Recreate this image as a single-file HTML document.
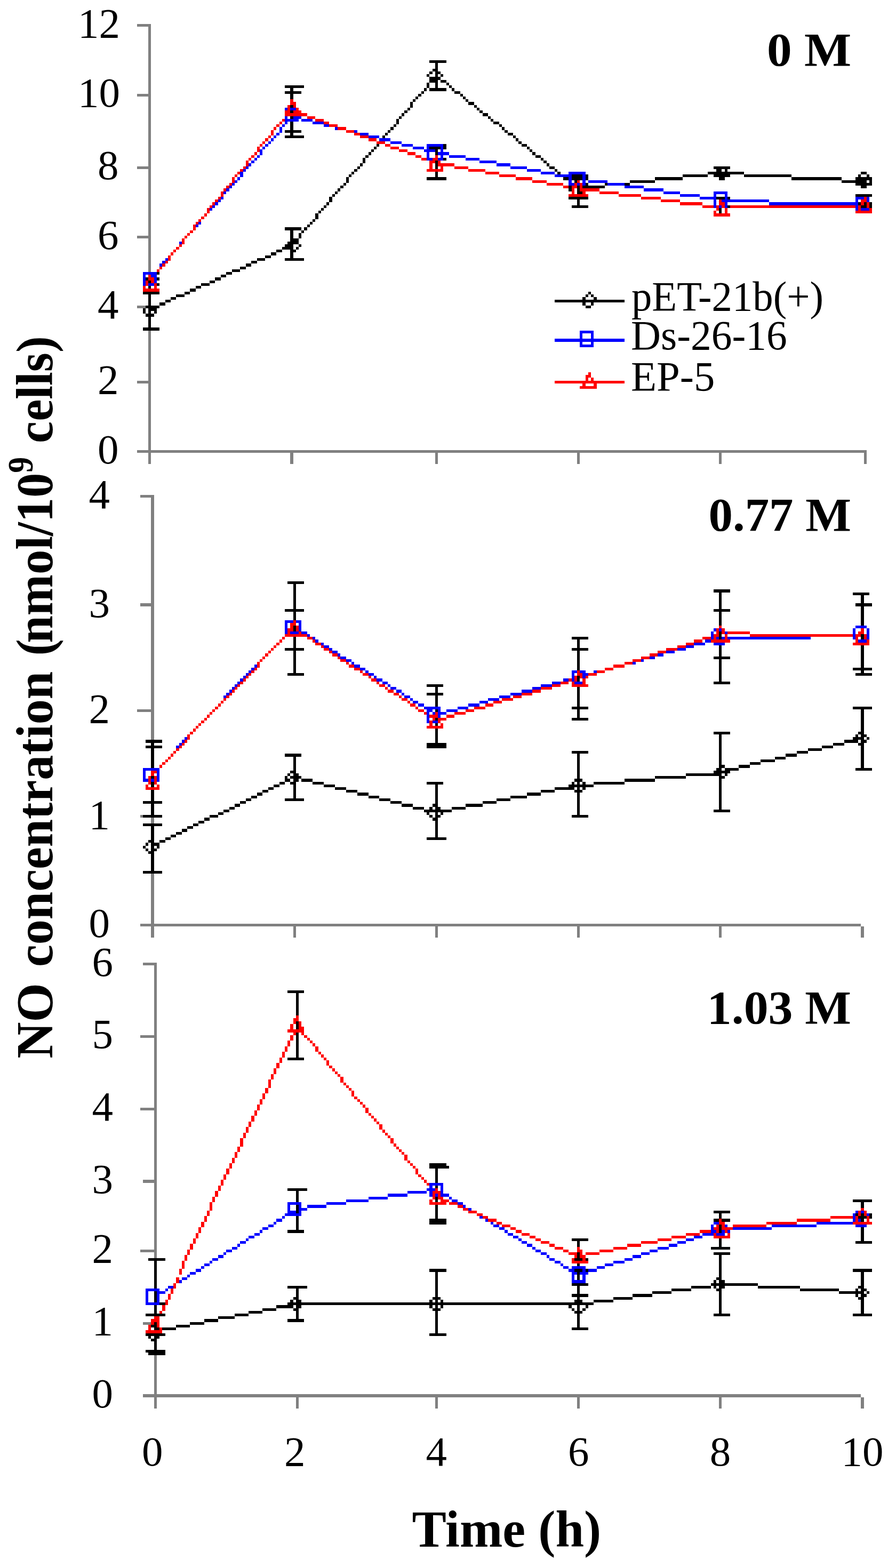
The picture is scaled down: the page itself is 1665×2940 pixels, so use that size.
<!DOCTYPE html>
<html lang="en">
<head>
<meta charset="utf-8">
<title>NO concentration vs Time</title>
<style>
html,body{margin:0;padding:0;background:#ffffff;}
body{width:1665px;height:2940px;overflow:hidden;}
svg{display:block;}
svg text{font-family:"Liberation Serif","DejaVu Serif",serif;fill:#000000;}
</style>
</head>
<body>
<svg width="1665" height="2940" viewBox="0 0 1665 2940">
<rect x="0" y="0" width="1665" height="2940" fill="#ffffff"/>
<g shape-rendering="crispEdges">
<path fill="#808080" d="M257 45h26v5h-26zM278 50h5v6h-5zM278 56h5v5h-5zM278 61h5v5h-5zM278 66h5v5h-5zM278 71h5v6h-5zM278 77h5v5h-5zM278 82h5v5h-5zM278 87h5v5h-5zM278 92h5v5h-5zM278 97h5v6h-5zM278 103h5v5h-5zM278 108h5v5h-5zM278 113h5v5h-5zM278 118h5v6h-5zM278 124h5v5h-5zM278 129h5v5h-5zM278 134h5v5h-5zM278 139h5v5h-5zM278 144h5v6h-5zM278 150h5v5h-5zM278 155h5v5h-5zM278 160h5v5h-5zM278 165h5v6h-5zM278 171h5v5h-5zM257 176h26v5h-26zM278 181h5v5h-5zM278 186h5v5h-5zM278 191h5v6h-5zM278 197h5v5h-5zM278 202h5v5h-5zM278 207h5v5h-5zM278 212h5v6h-5zM278 218h5v5h-5zM278 223h5v5h-5zM278 228h5v5h-5zM278 233h5v5h-5zM278 238h5v6h-5zM278 244h5v5h-5zM278 249h5v5h-5zM278 254h5v5h-5zM278 259h5v6h-5zM278 265h5v5h-5zM278 270h5v5h-5zM278 275h5v5h-5zM278 280h5v5h-5zM278 285h5v6h-5zM278 291h5v5h-5zM278 296h5v5h-5zM278 301h5v5h-5zM278 306h5v6h-5zM257 312h26v5h-26zM278 317h5v5h-5zM278 322h5v5h-5zM278 327h5v5h-5zM278 332h5v6h-5zM278 338h5v5h-5zM278 343h5v5h-5zM278 348h5v5h-5zM278 353h5v6h-5zM278 359h5v5h-5zM278 364h5v5h-5zM278 369h5v5h-5zM278 374h5v5h-5zM278 379h5v6h-5zM278 385h5v5h-5zM278 390h5v5h-5zM278 395h5v5h-5zM278 400h5v6h-5zM278 406h5v5h-5zM278 411h5v5h-5zM278 416h5v5h-5zM278 421h5v5h-5zM278 426h5v6h-5zM278 432h5v5h-5zM278 437h5v5h-5zM257 442h26v5h-26zM278 447h5v6h-5zM278 453h5v5h-5zM278 458h5v5h-5zM278 463h5v5h-5zM278 468h5v5h-5zM278 473h5v6h-5zM278 479h5v5h-5zM278 484h5v5h-5zM278 489h5v5h-5zM278 494h5v6h-5zM278 500h5v5h-5zM278 505h5v5h-5zM257 573h16v5h-16zM278 620h5v5h-5zM278 625h5v5h-5zM278 630h5v5h-5zM278 635h5v6h-5zM278 641h5v5h-5zM278 646h5v5h-5zM278 651h5v5h-5zM278 656h5v5h-5zM278 661h5v6h-5zM278 667h5v5h-5zM278 672h5v5h-5zM278 677h5v5h-5zM278 682h5v6h-5zM278 688h5v5h-5zM278 693h5v5h-5zM278 698h5v5h-5zM278 703h5v5h-5zM278 708h5v6h-5zM257 714h26v5h-26zM278 719h5v5h-5zM278 724h5v5h-5zM278 729h5v6h-5zM278 735h5v5h-5zM278 740h5v5h-5zM278 745h5v5h-5zM278 750h5v5h-5zM278 755h5v6h-5zM278 761h5v5h-5zM278 766h5v5h-5zM278 771h5v5h-5zM278 776h5v6h-5zM278 782h5v5h-5zM278 787h5v5h-5zM278 792h5v5h-5zM278 797h5v5h-5zM278 802h5v6h-5zM278 808h5v5h-5zM278 813h5v5h-5zM278 818h5v5h-5zM278 823h5v6h-5zM278 829h5v5h-5zM278 834h5v5h-5zM278 839h5v5h-5zM257 844h1368v5h-1368zM278 849h5v6h-5zM544 849h6v6h-6zM816 849h5v6h-5zM1082 849h5v6h-5zM1348 849h5v6h-5zM1620 849h5v6h-5zM278 855h5v5h-5zM544 855h6v5h-6zM816 855h5v5h-5zM1082 855h5v5h-5zM1348 855h5v5h-5zM1620 855h5v5h-5zM278 860h5v5h-5zM544 860h6v5h-6zM816 860h5v5h-5zM1082 860h5v5h-5zM1348 860h5v5h-5zM1620 860h5v5h-5zM278 865h5v5h-5zM544 865h6v5h-6zM816 865h5v5h-5zM1082 865h5v5h-5zM1348 865h5v5h-5zM1620 865h5v5h-5zM263 928h26v5h-26zM283 933h6v5h-6zM283 938h6v5h-6zM283 943h6v6h-6zM283 949h6v5h-6zM283 954h6v5h-6zM283 959h6v5h-6zM283 964h6v6h-6zM283 970h6v5h-6zM283 975h6v5h-6zM283 980h6v5h-6zM283 985h6v5h-6zM283 990h6v6h-6zM283 996h6v5h-6zM283 1001h6v5h-6zM283 1006h6v5h-6zM283 1011h6v6h-6zM283 1017h6v5h-6zM283 1022h6v5h-6zM283 1027h6v5h-6zM283 1032h6v5h-6zM283 1037h6v6h-6zM283 1043h6v5h-6zM283 1048h6v5h-6zM283 1053h6v5h-6zM283 1058h6v6h-6zM283 1064h6v5h-6zM283 1069h6v5h-6zM283 1074h6v5h-6zM283 1079h6v5h-6zM283 1084h6v6h-6zM283 1090h6v5h-6zM283 1095h6v5h-6zM283 1100h6v5h-6zM283 1105h6v6h-6zM283 1111h6v5h-6zM283 1116h6v5h-6zM283 1121h6v5h-6zM283 1126h6v5h-6zM263 1131h26v6h-26zM283 1137h6v5h-6zM283 1142h6v5h-6zM283 1147h6v5h-6zM283 1152h6v6h-6zM283 1158h6v5h-6zM283 1163h6v5h-6zM283 1168h6v5h-6zM283 1173h6v5h-6zM283 1178h6v6h-6zM283 1184h6v5h-6zM283 1189h6v5h-6zM283 1194h6v5h-6zM283 1199h6v6h-6zM283 1205h6v5h-6zM283 1210h6v5h-6zM283 1215h6v5h-6zM283 1220h6v5h-6zM283 1225h6v6h-6zM283 1231h6v5h-6zM283 1236h6v5h-6zM283 1241h6v5h-6zM283 1246h6v6h-6zM283 1252h6v5h-6zM283 1257h6v5h-6zM283 1262h6v5h-6zM283 1267h6v5h-6zM283 1272h6v6h-6zM283 1278h6v5h-6zM283 1283h6v5h-6zM283 1288h6v5h-6zM283 1293h6v6h-6zM283 1299h6v5h-6zM283 1304h6v5h-6zM283 1309h6v5h-6zM283 1314h6v5h-6zM283 1319h6v6h-6zM283 1325h6v5h-6zM257 1330h32v5h-32zM283 1335h6v5h-6zM283 1340h6v6h-6zM283 1346h6v5h-6zM283 1351h6v5h-6zM283 1356h6v5h-6zM283 1361h6v5h-6zM283 1366h6v6h-6zM283 1372h6v5h-6zM283 1377h6v5h-6zM283 1382h6v5h-6zM263 1528h5v5h-5zM283 1533h6v6h-6zM283 1539h6v5h-6zM283 1638h6v5h-6zM283 1643h6v5h-6zM283 1648h6v6h-6zM283 1654h6v5h-6zM283 1659h6v5h-6zM283 1664h6v5h-6zM283 1669h6v5h-6zM283 1674h6v6h-6zM283 1680h6v5h-6zM283 1685h6v5h-6zM283 1690h6v5h-6zM283 1695h6v6h-6zM283 1701h6v5h-6zM283 1706h6v5h-6zM283 1711h6v5h-6zM283 1716h6v5h-6zM283 1721h6v6h-6zM283 1727h6v5h-6zM263 1732h1351v5h-1351zM283 1737h6v5h-6zM550 1737h5v5h-5zM816 1737h5v5h-5zM1082 1737h5v5h-5zM1348 1737h5v5h-5zM1614 1737h6v5h-6zM283 1742h6v6h-6zM550 1742h5v6h-5zM816 1742h5v6h-5zM1082 1742h5v6h-5zM1348 1742h5v6h-5zM1614 1742h6v6h-6zM283 1748h6v5h-6zM550 1748h5v5h-5zM816 1748h5v5h-5zM1082 1748h5v5h-5zM1348 1748h5v5h-5zM1614 1748h6v5h-6zM283 1753h6v5h-6zM550 1753h5v5h-5zM816 1753h5v5h-5zM1082 1753h5v5h-5zM1348 1753h5v5h-5zM1614 1753h6v5h-6zM268 1805h26v5h-26zM289 1810h5v5h-5zM289 1815h5v6h-5zM289 1821h5v5h-5zM289 1826h5v5h-5zM289 1831h5v5h-5zM289 1836h5v6h-5zM289 1842h5v5h-5zM289 1847h5v5h-5zM289 1852h5v5h-5zM289 1857h5v5h-5zM289 1862h5v6h-5zM289 1868h5v5h-5zM289 1873h5v5h-5zM289 1878h5v5h-5zM289 1883h5v6h-5zM289 1889h5v5h-5zM289 1894h5v5h-5zM289 1899h5v5h-5zM289 1904h5v5h-5zM289 1909h5v6h-5zM289 1915h5v5h-5zM289 1920h5v5h-5zM289 1925h5v5h-5zM289 1930h5v6h-5zM289 1936h5v5h-5zM263 1941h31v5h-31zM289 1946h5v5h-5zM289 1951h5v5h-5zM289 1956h5v6h-5zM289 1962h5v5h-5zM289 1967h5v5h-5zM289 1972h5v5h-5zM289 1977h5v6h-5zM289 1983h5v5h-5zM289 1988h5v5h-5zM289 1993h5v5h-5zM289 1998h5v5h-5zM289 2003h5v6h-5zM289 2009h5v5h-5zM289 2014h5v5h-5zM289 2019h5v5h-5zM289 2024h5v6h-5zM289 2030h5v5h-5zM289 2035h5v5h-5zM289 2040h5v5h-5zM289 2045h5v5h-5zM289 2050h5v6h-5zM289 2056h5v5h-5zM289 2061h5v5h-5zM289 2066h5v5h-5zM289 2071h5v6h-5zM263 2077h31v5h-31zM289 2082h5v5h-5zM289 2087h5v5h-5zM289 2092h5v5h-5zM289 2097h5v6h-5zM289 2103h5v5h-5zM289 2108h5v5h-5zM289 2113h5v5h-5zM289 2118h5v6h-5zM289 2124h5v5h-5zM289 2129h5v5h-5zM289 2134h5v5h-5zM289 2139h5v5h-5zM289 2144h5v6h-5zM289 2150h5v5h-5zM289 2155h5v5h-5zM289 2160h5v5h-5zM289 2165h5v6h-5zM289 2171h5v5h-5zM289 2176h5v5h-5zM289 2181h5v5h-5zM289 2186h5v5h-5zM289 2191h5v6h-5zM289 2197h5v5h-5zM289 2202h5v5h-5zM289 2207h5v5h-5zM268 2212h26v6h-26zM289 2218h5v5h-5zM289 2223h5v5h-5zM289 2228h5v5h-5zM289 2233h5v5h-5zM289 2238h5v6h-5zM289 2244h5v5h-5zM289 2249h5v5h-5zM289 2254h5v5h-5zM289 2259h5v6h-5zM289 2265h5v5h-5zM289 2270h5v5h-5zM289 2275h5v5h-5zM289 2280h5v5h-5zM289 2285h5v6h-5zM289 2291h5v5h-5zM289 2296h5v5h-5zM289 2301h5v5h-5zM289 2306h5v6h-5zM289 2312h5v5h-5zM289 2317h5v5h-5zM289 2322h5v5h-5zM289 2327h5v5h-5zM289 2332h5v6h-5zM289 2338h5v5h-5zM263 2343h31v5h-31zM289 2348h5v5h-5zM289 2353h5v6h-5zM268 2479h15v5h-15zM289 2541h5v6h-5zM289 2547h5v5h-5zM289 2552h5v5h-5zM289 2557h5v5h-5zM289 2562h5v5h-5zM289 2567h5v6h-5zM289 2573h5v5h-5zM289 2578h5v5h-5zM289 2583h5v5h-5zM289 2588h5v6h-5zM289 2594h5v5h-5zM289 2599h5v5h-5zM289 2604h5v5h-5zM289 2609h5v5h-5zM268 2614h1346v6h-1346zM289 2620h5v5h-5zM555 2620h5v5h-5zM816 2620h5v5h-5zM1082 2620h5v5h-5zM1348 2620h5v5h-5zM1614 2620h6v5h-6zM289 2625h5v5h-5zM555 2625h5v5h-5zM816 2625h5v5h-5zM1082 2625h5v5h-5zM1348 2625h5v5h-5zM1614 2625h6v5h-6zM289 2630h5v5h-5zM555 2630h5v5h-5zM816 2630h5v5h-5zM1082 2630h5v5h-5zM1348 2630h5v5h-5zM1614 2630h6v5h-6zM289 2635h5v6h-5zM555 2635h5v6h-5zM816 2635h5v6h-5zM1082 2635h5v6h-5zM1348 2635h5v6h-5zM1614 2635h6v6h-6z"/>
<path fill="#000000" d="M805 113h32v5h-32zM816 118h5v6h-5zM816 124h5v5h-5zM811 129h10v5h-10zM805 134h6v5h-6zM816 134h10v5h-10zM800 139h5v5h-5zM816 139h5v5h-5zM826 139h5v5h-5zM805 144h21v6h-21zM805 150h16v5h-16zM826 150h11v5h-11zM800 155h5v5h-5zM816 155h5v5h-5zM837 155h5v5h-5zM534 160h36v5h-36zM800 160h5v5h-5zM816 160h5v5h-5zM842 160h5v5h-5zM544 165h6v6h-6zM795 165h5v6h-5zM805 165h32v6h-32zM847 165h5v6h-5zM534 171h31v5h-31zM790 171h5v5h-5zM852 171h11v5h-11zM544 176h6v5h-6zM784 176h6v5h-6zM863 176h5v5h-5zM544 181h6v5h-6zM779 181h5v5h-5zM868 181h5v5h-5zM774 186h5v5h-5zM873 186h5v5h-5zM769 191h5v6h-5zM878 191h11v6h-11zM544 197h6v5h-6zM769 197h5v5h-5zM889 197h5v5h-5zM764 202h5v5h-5zM894 202h5v5h-5zM544 207h6v5h-6zM758 207h6v5h-6zM899 207h6v5h-6zM753 212h5v6h-5zM905 212h10v6h-10zM544 218h6v5h-6zM748 218h5v5h-5zM915 218h5v5h-5zM743 223h5v5h-5zM920 223h5v5h-5zM544 228h6v5h-6zM743 228h5v5h-5zM925 228h11v5h-11zM544 233h6v5h-6zM738 233h5v5h-5zM936 233h5v5h-5zM544 238h6v6h-6zM732 238h6v6h-6zM941 238h5v6h-5zM534 244h31v5h-31zM727 244h5v5h-5zM946 244h6v5h-6zM544 249h6v5h-6zM722 249h5v5h-5zM952 249h10v5h-10zM534 254h36v5h-36zM717 254h5v5h-5zM962 254h5v5h-5zM967 259h5v6h-5zM972 265h6v5h-6zM706 270h5v5h-5zM831 270h6v5h-6zM978 270h10v5h-10zM701 275h5v5h-5zM805 275h21v5h-21zM831 275h6v5h-6zM988 275h5v5h-5zM696 280h5v5h-5zM816 280h5v5h-5zM993 280h5v5h-5zM691 285h5v6h-5zM816 285h5v6h-5zM998 285h6v6h-6zM685 291h6v5h-6zM1004 291h10v5h-10zM680 296h5v5h-5zM831 296h6v5h-6zM1014 296h5v5h-5zM680 301h5v5h-5zM816 301h5v5h-5zM1019 301h6v5h-6zM675 306h5v6h-5zM816 306h5v6h-5zM1025 306h5v6h-5zM670 312h5v5h-5zM816 312h5v5h-5zM1030 312h10v5h-10zM1338 312h31v5h-31zM664 317h6v5h-6zM1040 317h5v5h-5zM1343 317h10v5h-10zM1359 317h5v5h-5zM659 322h5v5h-5zM816 322h5v5h-5zM1045 322h6v5h-6zM1327 322h68v5h-68zM1614 322h11v5h-11zM654 327h5v5h-5zM816 327h5v5h-5zM1072 327h20v5h-20zM1098 327h5v5h-5zM1280 327h47v5h-47zM1338 327h31v5h-31zM1395 327h89v5h-89zM1609 327h5v5h-5zM1625 327h5v5h-5zM649 332h5v6h-5zM800 332h37v6h-37zM1056 332h10v6h-10zM1072 332h20v6h-20zM1098 332h5v6h-5zM1228 332h52v6h-52zM1348 332h11v6h-11zM1484 332h94v6h-94zM1604 332h31v6h-31zM649 338h5v5h-5zM1077 338h5v5h-5zM1181 338h47v5h-47zM1578 338h47v5h-47zM1630 338h5v5h-5zM644 343h5v5h-5zM1098 343h5v5h-5zM1134 343h5v5h-5zM1171 343h10v5h-10zM1604 343h31v5h-31zM638 348h6v5h-6zM1066 348h6v5h-6zM1082 348h5v5h-5zM1092 348h42v5h-42zM1614 348h11v5h-11zM633 353h5v6h-5zM1066 353h6v6h-6zM1082 353h5v6h-5zM628 359h5v5h-5zM1082 359h10v5h-10zM623 364h5v5h-5zM1604 364h31v5h-31zM617 369h6v5h-6zM1066 369h37v5h-37zM1343 369h16v5h-16zM1364 369h5v5h-5zM617 374h6v5h-6zM1082 374h5v5h-5zM612 379h5v6h-5zM1082 379h5v6h-5zM1609 379h5v6h-5zM1620 379h5v6h-5zM1630 379h5v6h-5zM607 385h5v5h-5zM1072 385h31v5h-31zM1364 385h5v5h-5zM1614 385h11v5h-11zM1630 385h5v5h-5zM602 390h5v5h-5zM1348 390h5v5h-5zM597 395h5v5h-5zM1348 395h5v5h-5zM591 400h6v6h-6zM591 406h6v5h-6zM586 411h5v5h-5zM581 416h5v5h-5zM576 421h5v5h-5zM534 426h31v6h-31zM570 426h6v6h-6zM544 432h6v5h-6zM565 432h5v5h-5zM544 437h6v5h-6zM560 437h5v5h-5zM544 442h6v5h-6zM560 442h5v5h-5zM544 447h16v6h-16zM539 453h21v5h-21zM534 458h16v5h-16zM560 458h5v5h-5zM529 463h21v5h-21zM555 463h5v5h-5zM518 468h11v5h-11zM544 468h11v5h-11zM508 473h10v6h-10zM544 473h6v6h-6zM497 479h11v5h-11zM544 479h6v5h-6zM482 484h15v5h-15zM534 484h36v5h-36zM471 489h11v5h-11zM461 494h10v6h-10zM450 500h11v5h-11zM435 505h15v5h-15zM294 510h5v5h-5zM424 510h11v5h-11zM414 515h10v5h-10zM273 520h5v6h-5zM294 520h5v6h-5zM403 520h11v6h-11zM278 526h5v5h-5zM393 526h10v5h-10zM294 531h5v5h-5zM377 531h16v5h-16zM278 536h5v5h-5zM367 536h10v5h-10zM356 541h11v6h-11zM268 547h31v5h-31zM346 547h10v5h-10zM1103 547h5v5h-5zM278 552h5v5h-5zM330 552h16v5h-16zM1098 552h5v5h-5zM1108 552h5v5h-5zM278 557h5v5h-5zM320 557h10v5h-10zM1092 557h6v5h-6zM1113 557h6v5h-6zM278 562h5v5h-5zM310 562h10v5h-10zM1040 562h131v5h-131zM278 567h5v6h-5zM299 567h11v6h-11zM1092 567h6v6h-6zM1108 567h5v6h-5zM273 573h26v5h-26zM1098 573h10v5h-10zM268 578h5v5h-5zM278 578h16v5h-16zM268 583h5v5h-5zM278 583h5v5h-5zM289 583h5v5h-5zM273 588h16v6h-16zM278 594h5v5h-5zM278 599h5v5h-5zM278 604h5v5h-5zM278 609h5v5h-5zM268 614h31v6h-31zM539 1090h31v5h-31zM550 1095h5v5h-5zM550 1100h5v5h-5zM550 1105h5v6h-5zM1338 1105h31v6h-31zM550 1111h5v5h-5zM1348 1111h5v5h-5zM1599 1111h31v5h-31zM550 1116h5v5h-5zM1348 1116h5v5h-5zM1614 1116h6v5h-6zM550 1121h5v5h-5zM1348 1121h5v5h-5zM1614 1121h6v5h-6zM550 1126h5v5h-5zM1348 1126h5v5h-5zM1614 1126h6v5h-6zM550 1131h5v6h-5zM1348 1131h5v6h-5zM1604 1131h31v6h-31zM550 1137h5v5h-5zM1348 1137h5v5h-5zM1614 1137h6v5h-6zM534 1142h36v5h-36zM1338 1142h31v5h-31zM1614 1142h6v5h-6zM550 1147h5v5h-5zM1348 1147h5v5h-5zM1614 1147h6v5h-6zM550 1152h5v6h-5zM1348 1152h5v6h-5zM1614 1152h6v6h-6zM550 1158h5v5h-5zM1348 1158h5v5h-5zM1614 1158h6v5h-6zM1348 1163h5v5h-5zM1614 1163h6v5h-6zM1348 1168h5v5h-5zM1614 1168h6v5h-6zM550 1173h5v5h-5zM550 1178h5v6h-5zM1348 1184h5v5h-5zM1348 1189h5v5h-5zM1614 1189h6v5h-6zM550 1194h5v5h-5zM1072 1194h31v5h-31zM1348 1194h5v5h-5zM1614 1194h6v5h-6zM550 1199h5v6h-5zM1082 1199h5v6h-5zM550 1205h5v5h-5zM1082 1205h5v5h-5zM550 1210h5v5h-5zM1082 1210h5v5h-5zM1348 1210h5v5h-5zM1614 1210h6v5h-6zM534 1215h36v5h-36zM1072 1215h31v5h-31zM1348 1215h5v5h-5zM1614 1215h6v5h-6zM550 1220h5v5h-5zM1082 1220h5v5h-5zM1348 1220h5v5h-5zM1614 1220h6v5h-6zM550 1225h5v6h-5zM1082 1225h5v6h-5zM1348 1225h5v6h-5zM1614 1225h6v6h-6zM550 1231h5v5h-5zM1082 1231h5v5h-5zM1338 1231h31v5h-31zM1614 1231h6v5h-6zM550 1236h5v5h-5zM1082 1236h5v5h-5zM1348 1236h5v5h-5zM1614 1236h6v5h-6zM550 1241h5v5h-5zM1082 1241h5v5h-5zM1348 1241h5v5h-5zM1614 1241h6v5h-6zM550 1246h5v6h-5zM1082 1246h5v6h-5zM1348 1246h5v6h-5zM1614 1246h6v6h-6zM550 1252h5v5h-5zM1082 1252h5v5h-5zM1348 1252h5v5h-5zM1599 1252h36v5h-36zM550 1257h5v5h-5zM1348 1257h5v5h-5zM1614 1257h6v5h-6zM539 1262h31v5h-31zM1348 1262h5v5h-5zM1604 1262h31v5h-31zM1082 1267h5v5h-5zM1348 1267h5v5h-5zM1082 1272h5v6h-5zM1348 1272h5v6h-5zM1338 1278h31v5h-31zM800 1283h31v5h-31zM816 1288h5v5h-5zM1082 1288h5v5h-5zM816 1293h5v6h-5zM1082 1293h5v6h-5zM800 1299h31v5h-31zM1082 1299h5v5h-5zM816 1304h5v5h-5zM1082 1304h5v5h-5zM816 1309h5v5h-5zM1082 1309h5v5h-5zM816 1314h5v5h-5zM1082 1314h5v5h-5zM816 1319h5v6h-5zM1082 1319h5v6h-5zM1072 1325h31v5h-31zM1599 1325h36v5h-36zM816 1330h5v5h-5zM1082 1330h5v5h-5zM1614 1330h6v5h-6zM1082 1335h5v5h-5zM1614 1335h6v5h-6zM1082 1340h5v6h-5zM1614 1340h6v6h-6zM816 1346h5v5h-5zM1072 1346h31v5h-31zM1614 1346h6v5h-6zM1614 1351h6v5h-6zM816 1356h5v5h-5zM1614 1356h6v5h-6zM1614 1361h6v5h-6zM816 1366h5v6h-5zM1614 1366h6v6h-6zM816 1372h5v5h-5zM1338 1372h31v5h-31zM1609 1372h11v5h-11zM816 1377h5v5h-5zM1348 1377h5v5h-5zM1604 1377h5v5h-5zM1614 1377h11v5h-11zM816 1382h5v5h-5zM1348 1382h5v5h-5zM1599 1382h21v5h-21zM1625 1382h5v5h-5zM273 1387h31v6h-31zM816 1387h5v6h-5zM1348 1387h5v6h-5zM1583 1387h26v6h-26zM1614 1387h11v6h-11zM283 1393h6v5h-6zM800 1393h37v5h-37zM1348 1393h5v5h-5zM1562 1393h21v5h-21zM1609 1393h11v5h-11zM273 1398h31v5h-31zM800 1398h37v5h-37zM1348 1398h5v5h-5zM1541 1398h21v5h-21zM1614 1398h6v5h-6zM283 1403h6v5h-6zM1348 1403h5v5h-5zM1515 1403h26v5h-26zM1614 1403h6v5h-6zM283 1408h6v5h-6zM1072 1408h31v5h-31zM1348 1408h5v5h-5zM1494 1408h21v5h-21zM1614 1408h6v5h-6zM283 1413h6v6h-6zM534 1413h31v6h-31zM1082 1413h5v6h-5zM1348 1413h5v6h-5zM1473 1413h21v6h-21zM1614 1413h6v6h-6zM283 1419h6v5h-6zM550 1419h5v5h-5zM1082 1419h5v5h-5zM1348 1419h5v5h-5zM1453 1419h20v5h-20zM1614 1419h6v5h-6zM283 1424h6v5h-6zM550 1424h5v5h-5zM1082 1424h5v5h-5zM1348 1424h5v5h-5zM1426 1424h27v5h-27zM1614 1424h6v5h-6zM283 1429h6v5h-6zM550 1429h5v5h-5zM1082 1429h5v5h-5zM1348 1429h5v5h-5zM1406 1429h20v5h-20zM1614 1429h6v5h-6zM283 1434h6v6h-6zM550 1434h5v6h-5zM1082 1434h5v6h-5zM1348 1434h11v6h-11zM1385 1434h21v6h-21zM1614 1434h6v6h-6zM550 1440h5v5h-5zM1082 1440h5v5h-5zM1343 1440h10v5h-10zM1359 1440h26v5h-26zM1604 1440h31v5h-31zM544 1445h11v5h-11zM1082 1445h5v5h-5zM1338 1445h31v5h-31zM539 1450h5v5h-5zM550 1450h10v5h-10zM1082 1450h5v5h-5zM1286 1450h67v5h-67zM1359 1450h5v5h-5zM283 1455h6v5h-6zM534 1455h5v5h-5zM544 1455h21v5h-21zM1082 1455h5v5h-5zM1228 1455h58v5h-58zM1348 1455h11v5h-11zM534 1460h10v6h-10zM550 1460h10v6h-10zM565 1460h21v6h-21zM1077 1460h15v6h-15zM1171 1460h57v6h-57zM1348 1460h5v6h-5zM283 1466h6v5h-6zM524 1466h10v5h-10zM544 1466h11v5h-11zM586 1466h21v5h-21zM800 1466h31v5h-31zM1072 1466h5v5h-5zM1082 1466h5v5h-5zM1092 1466h6v5h-6zM1113 1466h58v5h-58zM1348 1466h5v5h-5zM283 1471h6v5h-6zM513 1471h11v5h-11zM550 1471h5v5h-5zM607 1471h21v5h-21zM816 1471h5v5h-5zM1066 1471h47v5h-47zM1348 1471h5v5h-5zM503 1476h10v5h-10zM550 1476h5v5h-5zM628 1476h21v5h-21zM816 1476h5v5h-5zM1040 1476h37v5h-37zM1082 1476h5v5h-5zM1092 1476h6v5h-6zM1348 1476h5v5h-5zM283 1481h6v5h-6zM492 1481h11v5h-11zM550 1481h5v5h-5zM649 1481h21v5h-21zM816 1481h5v5h-5zM1014 1481h26v5h-26zM1077 1481h15v5h-15zM1348 1481h5v5h-5zM283 1486h6v6h-6zM482 1486h10v6h-10zM550 1486h5v6h-5zM670 1486h21v6h-21zM816 1486h5v6h-5zM988 1486h26v6h-26zM1082 1486h5v6h-5zM1348 1486h5v6h-5zM283 1492h6v5h-6zM471 1492h11v5h-11zM550 1492h5v5h-5zM691 1492h20v5h-20zM816 1492h5v5h-5zM957 1492h31v5h-31zM1082 1492h5v5h-5zM1348 1492h5v5h-5zM283 1497h6v5h-6zM461 1497h10v5h-10zM534 1497h36v5h-36zM711 1497h21v5h-21zM816 1497h5v5h-5zM931 1497h26v5h-26zM1082 1497h5v5h-5zM1348 1497h5v5h-5zM268 1502h36v5h-36zM450 1502h11v5h-11zM732 1502h21v5h-21zM816 1502h5v5h-5zM905 1502h26v5h-26zM1082 1502h5v5h-5zM1348 1502h5v5h-5zM283 1507h6v6h-6zM440 1507h10v6h-10zM753 1507h21v6h-21zM811 1507h10v6h-10zM873 1507h32v6h-32zM1082 1507h5v6h-5zM1348 1507h5v6h-5zM283 1513h6v5h-6zM430 1513h10v5h-10zM774 1513h21v5h-21zM805 1513h6v5h-6zM816 1513h10v5h-10zM847 1513h26v5h-26zM1082 1513h5v5h-5zM1348 1513h5v5h-5zM283 1518h6v5h-6zM419 1518h11v5h-11zM795 1518h52v5h-52zM1082 1518h5v5h-5zM1338 1518h31v5h-31zM283 1523h6v5h-6zM409 1523h10v5h-10zM800 1523h5v5h-5zM816 1523h5v5h-5zM826 1523h5v5h-5zM1082 1523h5v5h-5zM268 1528h36v5h-36zM393 1528h16v5h-16zM805 1528h6v5h-6zM816 1528h10v5h-10zM1072 1528h31v5h-31zM383 1533h10v6h-10zM811 1533h10v6h-10zM372 1539h11v5h-11zM816 1539h5v5h-5zM268 1544h36v5h-36zM362 1544h10v5h-10zM816 1544h5v5h-5zM283 1549h6v5h-6zM351 1549h11v5h-11zM816 1549h5v5h-5zM283 1554h6v6h-6zM341 1554h10v6h-10zM816 1554h5v6h-5zM283 1560h6v5h-6zM330 1560h11v5h-11zM816 1560h5v5h-5zM283 1565h6v5h-6zM320 1565h10v5h-10zM816 1565h5v5h-5zM283 1570h6v5h-6zM310 1570h10v5h-10zM800 1570h37v5h-37zM278 1575h11v5h-11zM299 1575h11v5h-11zM273 1580h5v6h-5zM283 1580h16v6h-16zM268 1586h5v5h-5zM283 1586h6v5h-6zM294 1586h5v5h-5zM273 1591h5v5h-5zM283 1591h11v5h-11zM278 1596h11v5h-11zM283 1601h6v6h-6zM283 1607h6v5h-6zM283 1612h6v5h-6zM283 1617h6v5h-6zM283 1622h6v5h-6zM283 1627h6v6h-6zM268 1633h36v5h-36zM539 1857h31v5h-31zM555 1862h5v6h-5zM555 1868h5v5h-5zM555 1873h5v5h-5zM555 1878h5v5h-5zM555 1883h5v6h-5zM555 1889h5v5h-5zM555 1894h5v5h-5zM555 1899h5v5h-5zM555 1915h5v5h-5zM555 1920h5v5h-5zM555 1925h5v5h-5zM555 1936h5v5h-5zM555 1941h5v5h-5zM555 1946h5v5h-5zM555 1951h5v5h-5zM555 1956h5v6h-5zM555 1962h5v5h-5zM555 1967h5v5h-5zM555 1972h5v5h-5zM555 1977h5v6h-5zM539 1983h31v5h-31zM805 2181h32v5h-32zM805 2186h37v5h-37zM816 2191h5v6h-5zM816 2197h5v5h-5zM816 2202h5v5h-5zM816 2207h5v5h-5zM816 2212h5v6h-5zM816 2223h5v5h-5zM539 2228h37v5h-37zM555 2233h5v5h-5zM555 2238h5v6h-5zM555 2244h5v5h-5zM816 2244h5v5h-5zM555 2249h5v5h-5zM816 2249h5v5h-5zM1599 2249h36v5h-36zM1614 2254h6v5h-6zM555 2259h5v6h-5zM816 2259h5v6h-5zM1614 2259h6v6h-6zM555 2265h5v5h-5zM816 2265h5v5h-5zM555 2270h5v5h-5zM816 2270h5v5h-5zM1338 2270h31v5h-31zM816 2275h5v5h-5zM1348 2275h5v5h-5zM1604 2275h5v5h-5zM1614 2275h6v5h-6zM1630 2275h5v5h-5zM555 2280h5v5h-5zM816 2280h5v5h-5zM1348 2280h5v5h-5zM1609 2280h16v5h-16zM1630 2280h5v5h-5zM555 2285h5v6h-5zM805 2285h32v6h-32zM1338 2285h10v6h-10zM1353 2285h16v6h-16zM1614 2285h6v6h-6zM555 2291h5v5h-5zM805 2291h32v5h-32zM555 2296h5v5h-5zM1348 2296h5v5h-5zM555 2301h5v5h-5zM1348 2301h5v5h-5zM1614 2301h6v5h-6zM539 2306h31v6h-31zM1348 2306h5v6h-5zM1614 2306h6v6h-6zM1614 2312h6v5h-6zM1614 2317h6v5h-6zM1072 2322h31v5h-31zM1348 2322h5v5h-5zM1614 2322h6v5h-6zM1082 2327h5v5h-5zM1348 2327h5v5h-5zM1604 2327h31v5h-31zM1082 2332h5v6h-5zM1348 2332h5v6h-5zM1333 2338h36v5h-36zM1082 2348h5v5h-5zM1338 2348h31v5h-31zM1082 2353h5v6h-5zM1348 2353h5v6h-5zM278 2359h32v5h-32zM1077 2359h15v5h-15zM1098 2359h5v5h-5zM1348 2359h5v5h-5zM289 2364h5v5h-5zM1348 2364h5v5h-5zM289 2369h5v5h-5zM1082 2369h5v5h-5zM1348 2369h5v5h-5zM289 2374h5v5h-5zM1348 2374h5v5h-5zM289 2379h5v6h-5zM805 2379h32v6h-32zM1077 2379h15v6h-15zM1098 2379h5v6h-5zM1348 2379h5v6h-5zM1599 2379h36v6h-36zM289 2385h5v5h-5zM816 2385h5v5h-5zM1082 2385h5v5h-5zM1348 2385h5v5h-5zM1614 2385h6v5h-6zM289 2390h5v5h-5zM816 2390h5v5h-5zM1082 2390h5v5h-5zM1348 2390h5v5h-5zM1614 2390h6v5h-6zM289 2395h5v5h-5zM816 2395h5v5h-5zM1082 2395h5v5h-5zM1343 2395h10v5h-10zM1614 2395h6v5h-6zM289 2400h5v6h-5zM816 2400h5v6h-5zM1338 2400h5v6h-5zM1348 2400h11v6h-11zM1614 2400h6v6h-6zM289 2406h5v5h-5zM816 2406h5v5h-5zM1072 2406h31v5h-31zM1333 2406h88v5h-88zM1614 2406h6v5h-6zM289 2411h5v5h-5zM539 2411h37v5h-37zM816 2411h5v5h-5zM1082 2411h5v5h-5zM1296 2411h37v5h-37zM1338 2411h5v5h-5zM1348 2411h11v5h-11zM1421 2411h79v5h-79zM1609 2411h11v5h-11zM555 2416h5v5h-5zM816 2416h5v5h-5zM1082 2416h5v5h-5zM1259 2416h37v5h-37zM1343 2416h10v5h-10zM1500 2416h73v5h-73zM1604 2416h5v5h-5zM1614 2416h11v5h-11zM289 2421h5v5h-5zM555 2421h5v5h-5zM816 2421h5v5h-5zM1082 2421h5v5h-5zM1223 2421h36v5h-36zM1348 2421h5v5h-5zM1573 2421h47v5h-47zM1625 2421h5v5h-5zM289 2426h5v6h-5zM555 2426h5v6h-5zM816 2426h5v6h-5zM1072 2426h31v6h-31zM1186 2426h37v6h-37zM1348 2426h5v6h-5zM1604 2426h5v6h-5zM1614 2426h11v6h-11zM289 2432h5v5h-5zM550 2432h10v5h-10zM811 2432h15v5h-15zM1082 2432h5v5h-5zM1150 2432h36v5h-36zM1348 2432h5v5h-5zM1609 2432h11v5h-11zM289 2437h5v5h-5zM544 2437h6v5h-6zM555 2437h10v5h-10zM805 2437h6v5h-6zM816 2437h5v5h-5zM826 2437h5v5h-5zM1077 2437h15v5h-15zM1113 2437h37v5h-37zM1348 2437h5v5h-5zM1614 2437h6v5h-6zM299 2442h11v5h-11zM539 2442h574v5h-574zM1348 2442h5v5h-5zM1614 2442h6v5h-6zM289 2447h5v6h-5zM518 2447h32v6h-32zM555 2447h10v6h-10zM805 2447h6v6h-6zM816 2447h5v6h-5zM826 2447h5v6h-5zM1066 2447h6v6h-6zM1082 2447h5v6h-5zM1098 2447h5v6h-5zM1348 2447h5v6h-5zM1614 2447h6v6h-6zM289 2453h5v5h-5zM492 2453h26v5h-26zM550 2453h10v5h-10zM811 2453h15v5h-15zM1072 2453h5v5h-5zM1082 2453h5v5h-5zM1092 2453h6v5h-6zM1348 2453h5v5h-5zM1614 2453h6v5h-6zM289 2458h5v5h-5zM466 2458h26v5h-26zM555 2458h5v5h-5zM816 2458h5v5h-5zM1077 2458h15v5h-15zM1348 2458h5v5h-5zM1614 2458h6v5h-6zM273 2463h37v5h-37zM440 2463h26v5h-26zM555 2463h5v5h-5zM816 2463h5v5h-5zM1082 2463h5v5h-5zM1338 2463h31v5h-31zM1599 2463h36v5h-36zM409 2468h31v5h-31zM555 2468h5v5h-5zM816 2468h5v5h-5zM1082 2468h5v5h-5zM383 2473h26v6h-26zM539 2473h31v6h-31zM816 2473h5v6h-5zM1082 2473h5v6h-5zM289 2479h5v5h-5zM356 2479h27v5h-27zM816 2479h5v5h-5zM1082 2479h5v5h-5zM283 2484h11v5h-11zM330 2484h26v5h-26zM816 2484h5v5h-5zM1082 2484h5v5h-5zM289 2489h10v5h-10zM304 2489h26v5h-26zM816 2489h5v5h-5zM1072 2489h31v5h-31zM816 2494h5v6h-5zM273 2500h37v5h-37zM805 2500h32v5h-32zM278 2505h5v5h-5zM289 2505h10v5h-10zM283 2510h11v5h-11zM289 2515h5v5h-5zM289 2520h5v6h-5zM289 2526h5v5h-5zM273 2531h37v5h-37zM278 2536h32v5h-32z"/>
<path fill="#0000ff" d="M534 202h5v5h-5zM544 202h11v5h-11zM534 218h5v5h-5zM550 218h15v5h-15zM534 223h26v5h-26zM565 223h21v5h-21zM534 228h5v5h-5zM586 228h21v5h-21zM529 233h5v5h-5zM607 233h10v5h-10zM524 238h5v6h-5zM628 238h5v6h-5zM524 244h5v5h-5zM664 244h6v5h-6zM518 249h6v5h-6zM675 249h16v5h-16zM513 254h5v5h-5zM691 254h20v5h-20zM508 259h5v6h-5zM711 259h21v6h-21zM503 265h5v5h-5zM732 265h21v5h-21zM497 270h6v5h-6zM753 270h21v5h-21zM800 270h31v5h-31zM492 275h5v5h-5zM774 275h21v5h-21zM800 275h5v5h-5zM826 275h5v5h-5zM487 280h5v5h-5zM795 280h21v5h-21zM826 280h5v5h-5zM487 285h5v6h-5zM800 285h5v6h-5zM821 285h21v6h-21zM482 291h5v5h-5zM800 291h5v5h-5zM826 291h5v5h-5zM842 291h31v5h-31zM477 296h5v5h-5zM800 296h11v5h-11zM821 296h10v5h-10zM873 296h26v5h-26zM471 301h6v5h-6zM899 301h32v5h-32zM466 306h5v6h-5zM931 306h26v6h-26zM461 312h5v5h-5zM957 312h31v5h-31zM456 317h5v5h-5zM988 317h26v5h-26zM450 322h6v5h-6zM1014 322h26v5h-26zM1066 322h32v5h-32zM450 327h6v5h-6zM1040 327h32v5h-32zM1092 327h6v5h-6zM445 332h5v6h-5zM1066 332h6v6h-6zM1092 332h6v6h-6zM440 338h5v5h-5zM1066 338h6v5h-6zM1092 338h6v5h-6zM1103 338h36v5h-36zM435 343h5v5h-5zM1066 343h11v5h-11zM1082 343h5v5h-5zM1092 343h6v5h-6zM1139 343h32v5h-32zM430 348h5v5h-5zM1171 348h36v5h-36zM424 353h6v6h-6zM1207 353h37v6h-37zM419 359h5v5h-5zM1244 359h31v5h-31zM1338 359h26v5h-26zM1275 364h37v5h-37zM1338 364h5v5h-5zM1359 364h5v5h-5zM414 369h5v5h-5zM1312 369h31v5h-31zM1359 369h5v5h-5zM1604 369h16v5h-16zM1625 369h5v5h-5zM409 374h5v5h-5zM1338 374h5v5h-5zM1353 374h89v5h-89zM1604 374h5v5h-5zM1625 374h5v5h-5zM403 379h6v6h-6zM1338 379h5v6h-5zM1359 379h5v6h-5zM1442 379h167v6h-167zM398 385h5v5h-5zM1338 385h5v5h-5zM1348 385h5v5h-5zM1359 385h5v5h-5zM1604 385h5v5h-5zM393 390h5v5h-5zM1604 390h5v5h-5zM1614 390h16v5h-16zM372 416h5v5h-5zM367 421h5v5h-5zM336 453h5v5h-5zM310 484h5v5h-5zM304 489h6v5h-6zM299 494h5v6h-5zM268 510h26v5h-26zM268 515h5v5h-5zM283 515h11v5h-11zM268 520h5v6h-5zM289 520h5v6h-5zM268 526h5v5h-5zM289 526h5v5h-5zM268 531h5v5h-5zM278 531h11v5h-11zM1087 620h26v5h-26zM1087 625h5v5h-5zM1108 625h5v5h-5zM1087 630h5v5h-5zM1108 630h5v5h-5zM1040 635h131v6h-131zM1087 641h5v5h-5zM1108 641h5v5h-5zM1087 646h26v5h-26zM534 1163h16v5h-16zM555 1163h10v5h-10zM534 1168h5v5h-5zM560 1168h5v5h-5zM534 1173h5v5h-5zM560 1173h5v5h-5zM1604 1173h21v5h-21zM534 1178h5v6h-5zM560 1178h5v6h-5zM1338 1178h5v6h-5zM1348 1178h5v6h-5zM1599 1178h5v6h-5zM1625 1178h5v6h-5zM534 1184h5v5h-5zM544 1184h16v5h-16zM565 1184h11v5h-11zM1333 1184h5v5h-5zM1359 1184h5v5h-5zM1599 1184h5v5h-5zM1625 1184h5v5h-5zM576 1189h5v5h-5zM1333 1189h5v5h-5zM1599 1189h5v5h-5zM1625 1189h5v5h-5zM586 1194h5v5h-5zM1333 1194h5v5h-5zM1343 1194h5v5h-5zM1353 1194h6v5h-6zM1364 1194h156v5h-156zM1599 1194h5v5h-5zM1625 1194h5v5h-5zM591 1199h6v6h-6zM1322 1199h11v6h-11zM1609 1199h16v6h-16zM602 1205h5v5h-5zM1301 1205h21v5h-21zM1338 1205h21v5h-21zM607 1210h10v5h-10zM1286 1210h15v5h-15zM617 1215h6v5h-6zM1270 1215h16v5h-16zM623 1220h10v5h-10zM1249 1220h16v5h-16zM633 1225h5v6h-5zM1233 1225h11v6h-11zM638 1231h11v5h-11zM1218 1231h10v5h-10zM649 1236h10v5h-10zM1202 1236h5v5h-5zM659 1241h5v5h-5zM1186 1241h6v5h-6zM477 1246h5v6h-5zM664 1246h11v6h-11zM471 1252h6v5h-6zM675 1252h10v5h-10zM466 1257h5v5h-5zM685 1257h6v5h-6zM1072 1257h10v5h-10zM1087 1257h11v5h-11zM1113 1257h6v5h-6zM461 1262h5v5h-5zM691 1262h10v5h-10zM1072 1262h5v5h-5zM1092 1262h11v5h-11zM456 1267h5v5h-5zM701 1267h5v5h-5zM1072 1267h5v5h-5zM1092 1267h6v5h-6zM450 1272h6v6h-6zM706 1272h11v6h-11zM1056 1272h10v6h-10zM1072 1272h5v6h-5zM445 1278h5v5h-5zM717 1278h10v5h-10zM1035 1278h16v5h-16zM1077 1278h15v5h-15zM440 1283h5v5h-5zM727 1283h5v5h-5zM1014 1283h21v5h-21zM435 1288h5v5h-5zM732 1288h11v5h-11zM998 1288h16v5h-16zM430 1293h5v6h-5zM743 1293h10v6h-10zM978 1293h20v6h-20zM424 1299h6v5h-6zM753 1299h5v5h-5zM957 1299h21v5h-21zM419 1304h5v5h-5zM758 1304h11v5h-11zM936 1304h21v5h-21zM769 1309h5v5h-5zM915 1309h21v5h-21zM774 1314h10v5h-10zM899 1314h16v5h-16zM784 1319h11v6h-11zM878 1319h21v6h-21zM795 1325h31v5h-31zM858 1325h20v5h-20zM800 1330h11v5h-11zM821 1330h5v5h-5zM837 1330h21v5h-21zM800 1335h5v5h-5zM811 1335h5v5h-5zM821 1335h16v5h-16zM800 1340h5v6h-5zM821 1340h5v6h-5zM800 1346h5v5h-5zM800 1351h5v5h-5zM811 1351h10v5h-10zM346 1382h5v5h-5zM341 1387h5v6h-5zM336 1393h5v5h-5zM330 1398h6v5h-6zM268 1440h31v5h-31zM268 1445h5v5h-5zM294 1445h5v5h-5zM268 1450h5v5h-5zM294 1450h5v5h-5zM268 1455h5v5h-5zM294 1455h5v5h-5zM268 1460h10v6h-10zM283 1460h6v6h-6zM294 1460h5v6h-5zM805 2218h26v5h-26zM805 2223h6v5h-6zM826 2223h5v5h-5zM800 2228h16v5h-16zM826 2228h5v5h-5zM764 2233h36v5h-36zM805 2233h6v5h-6zM826 2233h5v5h-5zM727 2238h37v6h-37zM805 2238h6v6h-6zM816 2238h5v6h-5zM826 2238h16v6h-16zM691 2244h36v5h-36zM842 2244h5v5h-5zM649 2249h42v5h-42zM847 2249h11v5h-11zM539 2254h26v5h-26zM612 2254h37v5h-37zM858 2254h10v5h-10zM539 2259h5v6h-5zM560 2259h5v6h-5zM576 2259h36v6h-36zM868 2259h5v6h-5zM539 2265h5v5h-5zM560 2265h16v5h-16zM878 2265h6v5h-6zM539 2270h16v5h-16zM560 2270h5v5h-5zM1604 2270h5v5h-5zM1614 2270h6v5h-6zM534 2275h31v5h-31zM1599 2275h5v5h-5zM1625 2275h5v5h-5zM529 2280h5v5h-5zM899 2280h6v5h-6zM1599 2280h5v5h-5zM518 2285h11v6h-11zM910 2285h5v6h-5zM1599 2285h5v6h-5zM1609 2285h5v6h-5zM513 2291h5v5h-5zM920 2291h5v5h-5zM1338 2291h10v5h-10zM1531 2291h68v5h-68zM503 2296h10v5h-10zM925 2296h11v5h-11zM1333 2296h5v5h-5zM1359 2296h5v5h-5zM1447 2296h84v5h-84zM1604 2296h21v5h-21zM492 2301h11v5h-11zM936 2301h10v5h-10zM1333 2301h5v5h-5zM1374 2301h73v5h-73zM487 2306h5v6h-5zM946 2306h6v6h-6zM1333 2306h10v6h-10zM1353 2306h6v6h-6zM1364 2306h5v6h-5zM477 2312h10v5h-10zM952 2312h10v5h-10zM1317 2312h21v5h-21zM1343 2312h16v5h-16zM466 2317h11v5h-11zM962 2317h10v5h-10zM1301 2317h16v5h-16zM461 2322h5v5h-5zM972 2322h6v5h-6zM1286 2322h15v5h-15zM450 2327h11v5h-11zM978 2327h10v5h-10zM1270 2327h16v5h-16zM445 2332h5v6h-5zM988 2332h10v6h-10zM1254 2332h16v6h-16zM435 2338h10v5h-10zM998 2338h6v5h-6zM1233 2338h21v5h-21zM424 2343h11v5h-11zM1004 2343h10v5h-10zM1218 2343h15v5h-15zM419 2348h5v5h-5zM1014 2348h11v5h-11zM1202 2348h16v5h-16zM409 2353h10v6h-10zM1025 2353h5v6h-5zM1186 2353h16v6h-16zM398 2359h11v5h-11zM1030 2359h10v5h-10zM1171 2359h15v5h-15zM393 2364h5v5h-5zM1040 2364h11v5h-11zM1150 2364h21v5h-21zM383 2369h10v5h-10zM1051 2369h5v5h-5zM1134 2369h16v5h-16zM377 2374h6v5h-6zM1056 2374h10v5h-10zM1072 2374h26v5h-26zM1119 2374h15v5h-15zM367 2379h10v6h-10zM1066 2379h11v6h-11zM1092 2379h6v6h-6zM1103 2379h16v6h-16zM356 2385h11v5h-11zM1072 2385h10v5h-10zM1087 2385h16v5h-16zM351 2390h5v5h-5zM1072 2390h5v5h-5zM1092 2390h6v5h-6zM341 2395h10v5h-10zM1072 2395h5v5h-5zM1092 2395h6v5h-6zM336 2400h5v6h-5zM1072 2400h26v6h-26zM315 2411h10v5h-10zM273 2416h26v5h-26zM310 2416h5v5h-5zM273 2421h5v5h-5zM294 2421h16v5h-16zM273 2426h5v6h-5zM294 2426h5v6h-5zM273 2432h5v5h-5zM294 2432h5v5h-5zM273 2437h5v5h-5zM294 2437h5v5h-5zM273 2442h26v5h-26z"/>
<path fill="#ff0000" d="M544 186h6v5h-6zM544 191h11v6h-11zM539 197h5v5h-5zM550 197h5v5h-5zM539 202h5v5h-5zM555 202h5v5h-5zM534 207h10v5h-10zM550 207h15v5h-15zM534 212h42v6h-42zM576 218h15v5h-15zM529 223h5v5h-5zM591 223h16v5h-16zM524 228h5v5h-5zM607 228h10v5h-10zM518 233h6v5h-6zM617 233h16v5h-16zM513 238h5v6h-5zM633 238h16v6h-16zM508 244h5v5h-5zM649 244h15v5h-15zM508 249h5v5h-5zM664 249h11v5h-11zM503 254h5v5h-5zM675 254h16v5h-16zM497 259h6v6h-6zM691 259h15v6h-15zM492 265h5v5h-5zM706 265h16v5h-16zM487 270h5v5h-5zM722 270h10v5h-10zM482 275h5v5h-5zM732 275h16v5h-16zM482 280h5v5h-5zM748 280h16v5h-16zM477 285h5v6h-5zM764 285h15v6h-15zM471 291h6v5h-6zM779 291h11v5h-11zM816 291h5v5h-5zM466 296h5v5h-5zM790 296h10v5h-10zM811 296h10v5h-10zM461 301h5v5h-5zM805 301h11v5h-11zM821 301h5v5h-5zM461 306h5v6h-5zM805 306h6v6h-6zM821 306h31v6h-31zM456 312h5v5h-5zM805 312h6v5h-6zM826 312h5v5h-5zM852 312h26v5h-26zM450 317h6v5h-6zM800 317h31v5h-31zM878 317h32v5h-32zM445 322h5v5h-5zM910 322h26v5h-26zM440 327h5v5h-5zM936 327h31v5h-31zM435 332h5v6h-5zM967 332h31v6h-31zM435 338h5v5h-5zM998 338h27v5h-27zM1082 338h5v5h-5zM430 343h5v5h-5zM1025 343h31v5h-31zM1077 343h5v5h-5zM1087 343h5v5h-5zM424 348h6v5h-6zM1056 348h10v5h-10zM1072 348h10v5h-10zM1087 348h5v5h-5zM419 353h5v6h-5zM1072 353h5v6h-5zM1087 353h37v6h-37zM414 359h5v5h-5zM1072 359h5v5h-5zM1092 359h6v5h-6zM1124 359h36v5h-36zM414 364h5v5h-5zM1066 364h37v5h-37zM1160 364h42v5h-42zM409 369h5v5h-5zM1202 369h37v5h-37zM1620 369h5v5h-5zM403 374h6v5h-6zM1239 374h36v5h-36zM1348 374h5v5h-5zM1614 374h11v5h-11zM398 379h5v6h-5zM1275 379h42v6h-42zM1348 379h11v6h-11zM1614 379h6v6h-6zM1625 379h5v6h-5zM393 385h5v5h-5zM1317 385h21v5h-21zM1343 385h5v5h-5zM1353 385h6v5h-6zM1369 385h235v5h-235zM1609 385h5v5h-5zM1625 385h5v5h-5zM388 390h5v5h-5zM1343 390h5v5h-5zM1359 390h5v5h-5zM1609 390h5v5h-5zM1630 390h5v5h-5zM388 395h5v5h-5zM1338 395h5v5h-5zM1359 395h5v5h-5zM1604 395h31v5h-31zM383 400h5v6h-5zM1338 400h31v6h-31zM377 406h6v5h-6zM372 411h5v5h-5zM367 416h5v5h-5zM362 421h5v5h-5zM362 426h5v6h-5zM356 432h6v5h-6zM351 437h5v5h-5zM346 442h5v5h-5zM341 447h5v6h-5zM341 453h5v5h-5zM336 458h5v5h-5zM330 463h6v5h-6zM325 468h5v5h-5zM320 473h5v6h-5zM315 479h5v5h-5zM315 484h5v5h-5zM310 489h5v5h-5zM304 494h6v6h-6zM299 500h5v5h-5zM294 505h5v5h-5zM278 515h5v5h-5zM278 520h11v6h-11zM273 526h5v5h-5zM283 526h6v5h-6zM273 531h5v5h-5zM289 531h5v5h-5zM268 536h5v5h-5zM289 536h5v5h-5zM268 541h31v6h-31zM1103 698h5v5h-5zM1098 703h10v5h-10zM1098 708h5v6h-5zM1108 708h5v6h-5zM1040 714h131v5h-131zM1092 719h6v5h-6zM1113 719h6v5h-6zM1087 724h32v5h-32zM550 1163h5v5h-5zM544 1168h11v5h-11zM544 1173h6v5h-6zM555 1173h5v5h-5zM1348 1173h5v5h-5zM539 1178h11v6h-11zM555 1178h5v6h-5zM1343 1178h5v6h-5zM1353 1178h6v6h-6zM1614 1178h6v6h-6zM539 1184h5v5h-5zM560 1184h5v5h-5zM1343 1184h5v5h-5zM1353 1184h6v5h-6zM1364 1184h42v5h-42zM1609 1184h11v5h-11zM534 1189h42v5h-42zM1338 1189h10v5h-10zM1359 1189h5v5h-5zM1406 1189h193v5h-193zM1604 1189h10v5h-10zM1620 1189h5v5h-5zM529 1194h5v5h-5zM576 1194h10v5h-10zM1317 1194h16v5h-16zM1338 1194h5v5h-5zM1359 1194h5v5h-5zM1604 1194h5v5h-5zM1620 1194h5v5h-5zM524 1199h5v6h-5zM586 1199h5v6h-5zM1301 1199h16v6h-16zM1333 1199h36v6h-36zM1604 1199h5v6h-5zM1625 1199h5v6h-5zM518 1205h6v5h-6zM591 1205h11v5h-11zM1286 1205h15v5h-15zM1599 1205h31v5h-31zM513 1210h5v5h-5zM602 1210h5v5h-5zM1270 1210h16v5h-16zM508 1215h5v5h-5zM607 1215h10v5h-10zM1249 1215h21v5h-21zM503 1220h5v5h-5zM617 1220h6v5h-6zM1233 1220h16v5h-16zM497 1225h6v6h-6zM623 1225h10v6h-10zM1218 1225h15v6h-15zM492 1231h5v5h-5zM633 1231h5v5h-5zM1202 1231h16v5h-16zM487 1236h5v5h-5zM638 1236h11v5h-11zM1186 1236h16v5h-16zM482 1241h5v5h-5zM649 1241h5v5h-5zM1171 1241h15v5h-15zM482 1246h5v6h-5zM654 1246h10v6h-10zM1150 1246h21v6h-21zM477 1252h5v5h-5zM664 1252h11v5h-11zM1134 1252h16v5h-16zM471 1257h6v5h-6zM675 1257h5v5h-5zM1082 1257h5v5h-5zM1119 1257h15v5h-15zM466 1262h5v5h-5zM680 1262h11v5h-11zM1082 1262h10v5h-10zM1103 1262h16v5h-16zM461 1267h5v5h-5zM691 1267h5v5h-5zM1077 1267h5v5h-5zM1087 1267h5v5h-5zM1098 1267h5v5h-5zM456 1272h5v6h-5zM696 1272h10v6h-10zM1066 1272h6v6h-6zM1077 1272h5v6h-5zM1092 1272h6v6h-6zM450 1278h6v5h-6zM706 1278h5v5h-5zM1051 1278h15v5h-15zM1072 1278h5v5h-5zM1092 1278h6v5h-6zM445 1283h5v5h-5zM711 1283h11v5h-11zM1035 1283h16v5h-16zM1072 1283h31v5h-31zM440 1288h5v5h-5zM722 1288h5v5h-5zM1014 1288h21v5h-21zM435 1293h5v6h-5zM727 1293h11v6h-11zM998 1293h16v6h-16zM430 1299h5v5h-5zM738 1299h10v5h-10zM978 1299h20v5h-20zM424 1304h6v5h-6zM748 1304h5v5h-5zM962 1304h16v5h-16zM419 1309h5v5h-5zM753 1309h11v5h-11zM941 1309h21v5h-21zM414 1314h5v5h-5zM764 1314h5v5h-5zM925 1314h16v5h-16zM409 1319h5v6h-5zM769 1319h10v6h-10zM910 1319h15v6h-15zM403 1325h6v5h-6zM779 1325h5v5h-5zM889 1325h21v5h-21zM398 1330h5v5h-5zM784 1330h11v5h-11zM873 1330h16v5h-16zM393 1335h5v5h-5zM795 1335h5v5h-5zM816 1335h5v5h-5zM852 1335h21v5h-21zM388 1340h5v6h-5zM805 1340h16v6h-16zM837 1340h15v6h-15zM383 1346h5v5h-5zM811 1346h5v5h-5zM821 1346h16v5h-16zM377 1351h6v5h-6zM805 1351h6v5h-6zM821 1351h5v5h-5zM372 1356h5v5h-5zM805 1356h6v5h-6zM826 1356h5v5h-5zM367 1361h5v5h-5zM800 1361h31v5h-31zM362 1366h5v6h-5zM356 1372h6v5h-6zM351 1377h5v5h-5zM351 1382h5v5h-5zM346 1387h5v6h-5zM341 1393h5v5h-5zM336 1398h5v5h-5zM330 1403h6v5h-6zM325 1408h5v5h-5zM320 1413h5v6h-5zM315 1419h5v5h-5zM310 1424h5v5h-5zM304 1429h6v5h-6zM299 1434h5v6h-5zM283 1445h11v5h-11zM283 1450h6v5h-6zM278 1455h5v5h-5zM289 1455h5v5h-5zM278 1460h5v6h-5zM289 1460h5v6h-5zM278 1466h5v5h-5zM289 1466h5v5h-5zM273 1471h5v5h-5zM294 1471h5v5h-5zM273 1476h26v5h-26zM555 1904h5v5h-5zM550 1909h10v6h-10zM550 1915h5v5h-5zM560 1915h5v5h-5zM544 1920h6v5h-6zM560 1920h5v5h-5zM544 1925h6v5h-6zM560 1925h10v5h-10zM539 1930h31v6h-31zM550 1936h5v5h-5zM565 1936h5v5h-5zM544 1941h6v5h-6zM570 1941h6v5h-6zM544 1946h6v5h-6zM576 1946h5v5h-5zM539 1951h5v5h-5zM581 1951h5v5h-5zM539 1956h5v6h-5zM586 1956h5v6h-5zM534 1962h5v5h-5zM591 1962h6v5h-6zM534 1967h5v5h-5zM591 1967h6v5h-6zM529 1972h5v5h-5zM597 1972h5v5h-5zM529 1977h5v6h-5zM602 1977h5v6h-5zM524 1983h5v5h-5zM607 1983h5v5h-5zM524 1988h5v5h-5zM612 1988h5v5h-5zM518 1993h6v5h-6zM612 1993h5v5h-5zM518 1998h6v5h-6zM617 1998h6v5h-6zM513 2003h5v6h-5zM623 2003h5v6h-5zM513 2009h5v5h-5zM628 2009h5v5h-5zM508 2014h5v5h-5zM633 2014h5v5h-5zM508 2019h5v5h-5zM638 2019h6v5h-6zM503 2024h5v6h-5zM638 2024h6v6h-6zM503 2030h5v5h-5zM644 2030h5v5h-5zM503 2035h5v5h-5zM649 2035h5v5h-5zM497 2040h6v5h-6zM654 2040h5v5h-5zM497 2045h6v5h-6zM659 2045h5v5h-5zM492 2050h5v6h-5zM659 2050h5v6h-5zM492 2056h5v5h-5zM664 2056h6v5h-6zM487 2061h5v5h-5zM670 2061h5v5h-5zM487 2066h5v5h-5zM675 2066h5v5h-5zM482 2071h5v6h-5zM680 2071h5v6h-5zM482 2077h5v5h-5zM685 2077h6v5h-6zM477 2082h5v5h-5zM685 2082h6v5h-6zM477 2087h5v5h-5zM691 2087h5v5h-5zM471 2092h6v5h-6zM696 2092h5v5h-5zM471 2097h6v6h-6zM701 2097h5v6h-5zM466 2103h5v5h-5zM706 2103h5v5h-5zM466 2108h5v5h-5zM711 2108h6v5h-6zM461 2113h5v5h-5zM711 2113h6v5h-6zM461 2118h5v6h-5zM717 2118h5v6h-5zM456 2124h5v5h-5zM722 2124h5v5h-5zM456 2129h5v5h-5zM727 2129h5v5h-5zM450 2134h6v5h-6zM732 2134h6v5h-6zM450 2139h6v5h-6zM732 2139h6v5h-6zM450 2144h6v6h-6zM738 2144h5v6h-5zM445 2150h5v5h-5zM743 2150h5v5h-5zM445 2155h5v5h-5zM748 2155h5v5h-5zM440 2160h5v5h-5zM753 2160h5v5h-5zM440 2165h5v6h-5zM758 2165h6v6h-6zM435 2171h5v5h-5zM758 2171h6v5h-6zM435 2176h5v5h-5zM764 2176h5v5h-5zM430 2181h5v5h-5zM769 2181h5v5h-5zM430 2186h5v5h-5zM774 2186h5v5h-5zM424 2191h6v6h-6zM779 2191h5v6h-5zM424 2197h6v5h-6zM779 2197h5v5h-5zM419 2202h5v5h-5zM784 2202h6v5h-6zM419 2207h5v5h-5zM790 2207h5v5h-5zM414 2212h5v6h-5zM795 2212h5v6h-5zM414 2218h5v5h-5zM800 2218h5v5h-5zM409 2223h5v5h-5zM409 2228h5v5h-5zM816 2228h5v5h-5zM403 2233h6v5h-6zM811 2233h15v5h-15zM403 2238h6v6h-6zM811 2238h5v6h-5zM821 2238h5v6h-5zM398 2244h5v5h-5zM811 2244h5v5h-5zM821 2244h10v5h-10zM398 2249h5v5h-5zM805 2249h6v5h-6zM826 2249h16v5h-16zM393 2254h5v5h-5zM805 2254h32v5h-32zM842 2254h16v5h-16zM393 2259h5v6h-5zM858 2259h10v6h-10zM393 2265h5v5h-5zM868 2265h10v5h-10zM1614 2265h6v5h-6zM388 2270h5v5h-5zM878 2270h16v5h-16zM1609 2270h5v5h-5zM1620 2270h5v5h-5zM388 2275h5v5h-5zM894 2275h11v5h-11zM1609 2275h5v5h-5zM1620 2275h5v5h-5zM383 2280h5v5h-5zM905 2280h10v5h-10zM1557 2280h42v5h-42zM1604 2280h5v5h-5zM1625 2280h5v5h-5zM383 2285h5v6h-5zM915 2285h16v6h-16zM1348 2285h5v6h-5zM1494 2285h63v6h-63zM1604 2285h5v6h-5zM1625 2285h5v6h-5zM377 2291h6v5h-6zM931 2291h10v5h-10zM1348 2291h11v5h-11zM1437 2291h57v5h-57zM1599 2291h36v5h-36zM377 2296h6v5h-6zM941 2296h16v5h-16zM1343 2296h5v5h-5zM1353 2296h6v5h-6zM1374 2296h63v5h-63zM372 2301h5v5h-5zM957 2301h10v5h-10zM1338 2301h10v5h-10zM1353 2301h21v5h-21zM372 2306h5v6h-5zM967 2306h11v6h-11zM1312 2306h21v6h-21zM1343 2306h5v6h-5zM1359 2306h5v6h-5zM367 2312h5v5h-5zM978 2312h15v5h-15zM1286 2312h26v5h-26zM1338 2312h5v5h-5zM1364 2312h5v5h-5zM367 2317h5v5h-5zM993 2317h11v5h-11zM1259 2317h27v5h-27zM1338 2317h31v5h-31zM362 2322h5v5h-5zM1004 2322h10v5h-10zM1233 2322h26v5h-26zM362 2327h5v5h-5zM1014 2327h16v5h-16zM1202 2327h31v5h-31zM356 2332h6v6h-6zM1030 2332h10v6h-10zM1176 2332h26v6h-26zM356 2338h6v5h-6zM1040 2338h16v5h-16zM1082 2338h5v5h-5zM1150 2338h26v5h-26zM351 2343h5v5h-5zM1056 2343h10v5h-10zM1082 2343h10v5h-10zM1124 2343h26v5h-26zM351 2348h5v5h-5zM1066 2348h16v5h-16zM1087 2348h5v5h-5zM1098 2348h26v5h-26zM346 2353h5v6h-5zM1077 2353h5v6h-5zM1087 2353h11v6h-11zM346 2359h5v5h-5zM1072 2359h5v5h-5zM1092 2359h6v5h-6zM341 2364h5v5h-5zM1072 2364h31v5h-31zM341 2369h5v5h-5zM341 2374h5v5h-5zM336 2379h5v6h-5zM336 2385h5v5h-5zM330 2395h6v5h-6zM330 2400h6v6h-6zM325 2406h5v5h-5zM325 2411h5v5h-5zM320 2416h5v5h-5zM320 2421h5v5h-5zM315 2426h5v6h-5zM315 2432h5v5h-5zM310 2437h5v5h-5zM310 2442h5v5h-5zM304 2447h6v6h-6zM304 2453h6v5h-6zM299 2458h5v5h-5zM289 2468h10v5h-10zM283 2473h16v6h-16zM283 2479h6v5h-6zM294 2479h5v5h-5zM278 2484h5v5h-5zM294 2484h5v5h-5zM278 2489h5v5h-5zM299 2489h5v5h-5zM273 2494h31v6h-31z"/>
</g>
<g>
<text x="225" y="69.7" font-size="79" text-anchor="end">12</text>
<text x="225" y="200.3" font-size="79" text-anchor="end">10</text>
<text x="222.5" y="336.1" font-size="79" text-anchor="end">8</text>
<text x="222.5" y="466.6" font-size="79" text-anchor="end">6</text>
<text x="222.5" y="597.2" font-size="79" text-anchor="end">4</text>
<text x="222.5" y="738.2" font-size="79" text-anchor="end">2</text>
<text x="222.5" y="868.7" font-size="79" text-anchor="end">0</text>
<text x="206" y="953.3" font-size="79" text-anchor="end">4</text>
<text x="206" y="1156.9" font-size="79" text-anchor="end">3</text>
<text x="206" y="1355.3" font-size="79" text-anchor="end">2</text>
<text x="206" y="1553.8" font-size="79" text-anchor="end">1</text>
<text x="206" y="1757.4" font-size="79" text-anchor="end">0</text>
<text x="212" y="1829.6" font-size="79" text-anchor="end">6</text>
<text x="212" y="1965.3" font-size="79" text-anchor="end">5</text>
<text x="212" y="2101.1" font-size="79" text-anchor="end">4</text>
<text x="212" y="2236.9" font-size="79" text-anchor="end">3</text>
<text x="212" y="2367.4" font-size="79" text-anchor="end">2</text>
<text x="212" y="2503.2" font-size="79" text-anchor="end">1</text>
<text x="212" y="2639.0" font-size="79" text-anchor="end">0</text>
<text x="285.7" y="2748.2" font-size="79" text-anchor="middle">0</text>
<text x="552.8" y="2748.2" font-size="79" text-anchor="middle">2</text>
<text x="818.2" y="2748.2" font-size="79" text-anchor="middle">4</text>
<text x="1084.7" y="2748.2" font-size="79" text-anchor="middle">6</text>
<text x="1350.5" y="2748.2" font-size="79" text-anchor="middle">8</text>
<text x="1617.1" y="2748.2" font-size="79" text-anchor="middle">10</text>
<text x="1437.9" y="122.5" font-size="88" font-weight="bold" textLength="158.2" lengthAdjust="spacingAndGlyphs">0 M</text>
<text x="1328.5" y="994.8" font-size="88" font-weight="bold" textLength="267.5" lengthAdjust="spacingAndGlyphs">0.77 M</text>
<text x="1325.8" y="1918.5" font-size="88" font-weight="bold" textLength="270.2" lengthAdjust="spacingAndGlyphs">1.03 M</text>
<text x="1184" y="581.7" font-size="79" textLength="360" lengthAdjust="spacingAndGlyphs">pET-21b(+)</text>
<text x="1183" y="654.6" font-size="79" textLength="292.8" lengthAdjust="spacingAndGlyphs">Ds-26-16</text>
<text x="1183" y="731.7" font-size="79" textLength="157.4" lengthAdjust="spacingAndGlyphs">EP-5</text>
<text x="772.5" y="2900.3" font-size="96.5" font-weight="bold">Time (h)</text>
<text transform="translate(97.5 1984.6) rotate(-90)" font-size="97" font-weight="bold"><tspan x="0" y="0" textLength="141.2" lengthAdjust="spacingAndGlyphs">NO</tspan> <tspan x="171.6" y="0" textLength="554.2" lengthAdjust="spacingAndGlyphs">concentration</tspan> <tspan x="755.2" y="0" textLength="31.3" lengthAdjust="spacingAndGlyphs">(</tspan><tspan x="778.8" y="0" textLength="319.2" lengthAdjust="spacingAndGlyphs">nmol/10</tspan><tspan x="1097.8" y="-37" font-size="68" textLength="30" lengthAdjust="spacingAndGlyphs">9</tspan> <tspan x="1153.7" y="0" textLength="200.7" lengthAdjust="spacingAndGlyphs">cells)</tspan></text>
</g>
</svg>
</body>
</html>
